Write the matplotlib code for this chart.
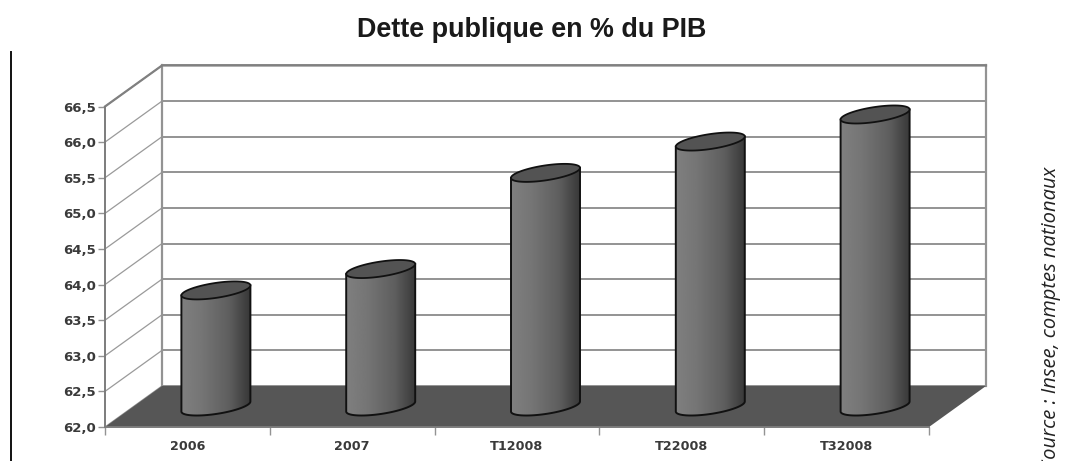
import numpy as np
import matplotlib as mpl
import matplotlib.pyplot as plt
from matplotlib.lines import Line2D
from matplotlib.patches import Polygon

mpl.rcParams['font.family'] = 'DejaVu Sans'

categories = ['2006', '2007', 'T12008', 'T22008', 'T32008']
dette = [63.63, 63.93, 65.28, 65.72, 66.1]
yticks = [62.0, 62.5, 63.0, 63.5, 64.0, 64.5, 65.0, 65.5, 66.0, 66.5]
ytick_labels = ['62,0', '62,5', '63,0', '63,5', '64,0', '64,5', '65,0', '65,5', '66,0', '66,5']

W, H = 1070, 461
# fake 3d depth, in data units
dx = 57 / 164.8
dy = 41 / 71.2
bar_w = 69 / 164.8
tilt = 5 / 71.2
flat = 7.5 / 71.2
grid_col = '#939393'

fig = plt.figure(figsize=(W / 100, H / 100), dpi=100)
ax = fig.add_axes([105 / W, (H - 427) / H, 824 / W, 320.5 / H])
ax.set_facecolor('none')

# back wall, side wall and grid
for v in yticks:
    ax.plot([0, dx], [v, v + dy], color='#9a9a9a', lw=0.9, clip_on=False, zorder=1)
    ax.plot([dx, 5 + dx], [v + dy, v + dy], color=grid_col, lw=1.4, clip_on=False, zorder=1)
ax.plot([dx, dx], [62 + dy, 66.5 + dy], color=grid_col, lw=1.6, clip_on=False, zorder=1)
ax.plot([5 + dx, 5 + dx], [62 + dy, 66.5 + dy], color=grid_col, lw=1.6, clip_on=False, zorder=1)
ax.plot([0, dx, 5 + dx], [66.5, 66.5 + dy, 66.5 + dy], color='#808080', lw=1.6, clip_on=False, zorder=1)

# floor
ax.add_patch(Polygon([(0, 62), (5, 62), (5 + dx, 62 + dy), (dx, 62 + dy)], closed=True,
                     facecolor='#565656', edgecolor='none', clip_on=False, zorder=2))

t = np.linspace(0, 2 * np.pi, 120)
shade = np.interp(np.linspace(0, 1, 200), [0, 0.3, 0.7, 0.9, 1], [0.5, 0.46, 0.37, 0.27, 0.22])[None, :]

for i, val in enumerate(dette):
    cx = i + 0.5 + dx / 2
    y0 = 62 + dy / 2
    a = bar_w / 2
    ex = cx + a * np.cos(t)
    top = val + dy / 2 + tilt * np.cos(t) + flat * np.sin(t)
    # outline of the body: lower half of base ellipse then up to the top
    half = t[60:120]
    bx = cx + a * np.cos(half)
    by = y0 + tilt * np.cos(half) + flat * np.sin(half)
    body_x = np.r_[bx, cx + a, cx - a]
    body_y = np.r_[by, val + dy / 2 + tilt, val + dy / 2 - tilt]
    body = Polygon(np.c_[body_x, body_y], closed=True, facecolor='none', edgecolor='none',
                   transform=ax.transData, zorder=3, clip_on=False)
    ax.add_patch(body)
    im = ax.imshow(shade, cmap='gray', vmin=0, vmax=1, aspect='auto', zorder=3,
                   extent=[cx - a, cx + a, 62, 67.2])
    im.set_clip_path(body)
    ax.add_patch(Polygon(np.c_[body_x, body_y], closed=True, facecolor='none', edgecolor='#111111',
                         lw=1.4, zorder=4, clip_on=False))
    ax.fill(ex, top, facecolor='#535353', edgecolor='#111111', lw=1.3, zorder=5, clip_on=False)

ax.set_xlim(0, 5)
ax.set_ylim(62, 66.5)
ax.set_yticks(yticks)
ax.set_yticklabels(ytick_labels, fontsize=9.5, fontweight='bold', color='#3a3a3a')
ax.set_xticks(range(6))
ax.set_xticklabels([])
ax.set_xticks(np.arange(5) + 0.5, labels=categories, minor=True, fontsize=9.2, fontweight='bold', color='#3a3a3a')
ax.tick_params(axis='x', which='minor', length=0, pad=9)
ax.tick_params(axis='x', which='major', length=6, width=1.0, color=grid_col)
ax.tick_params(axis='y', length=5, width=1.0, color=grid_col, pad=1.5)
ax.spines[['top', 'right']].set_visible(False)
ax.spines[['left', 'bottom']].set_color('#7c7c7c')
ax.spines[['left', 'bottom']].set_linewidth(1.4)
ax.spines[['left', 'bottom']].set_zorder(6)

fig.text(532 / W, (H - 30) / H, 'Dette publique en % du PIB', family='Liberation Sans', fontweight='bold',
         fontsize=19.4, color='#1a1a1a', ha='center', va='center')
fig.text(1051 / W, (H - 167) / H, 'Source : Insee, comptes nationaux', family='Open Sans', style='italic',
         fontsize=14.5, color='#222222', rotation=90, ha='center', va='top')
fig.add_artist(Line2D([11 / W, 11 / W], [0, (H - 52) / H], color='#111111', lw=1.4))

plt.savefig('out.png', dpi=100)
